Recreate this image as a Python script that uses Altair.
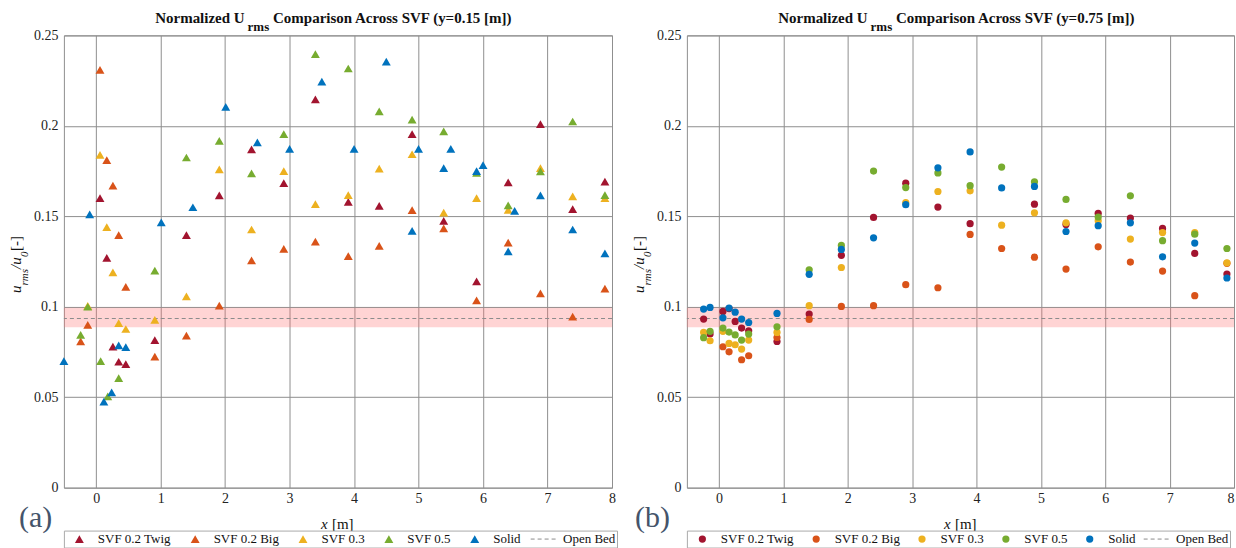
import altair as alt
import pandas as pd

# ---------------- data ----------------
series_names = ["SVF 0.2 Twig", "SVF 0.2 Big", "SVF 0.3", "SVF 0.5", "Solid"]
open_bed_name = "Open Bed"
series_colors = ["#A2142F", "#D95319", "#EDB120", "#77AC30", "#0072BD"]
open_bed_color = "#8c8c8c"

x_ticks = [0, 1, 2, 3, 4, 5, 6, 7, 8]
y_ticks = [0, 0.05, 0.1, 0.15, 0.2, 0.25]
x_domain = [-0.5, 8]
y_domain = [0, 0.25]

open_bed_mean = 0.0935
open_bed_low = 0.0886
open_bed_high = 0.0994

# (a) y = 0.15 m
a_twig_x = [0.06, 0.165, 0.26, 0.35, 0.46, 0.91, 1.40, 1.91, 2.41, 2.91, 3.40, 3.91, 4.39, 4.90, 5.39, 5.90, 6.39, 6.89, 7.39, 7.89]
a_twig_y = [0.160, 0.127, 0.078, 0.0696, 0.0683, 0.0816, 0.1396, 0.1615, 0.187, 0.1683, 0.2146, 0.158, 0.1558, 0.1954, 0.1475, 0.114, 0.1687, 0.2009, 0.154, 0.1692]
a_big_x = [-0.24, -0.13, 0.06, 0.165, 0.26, 0.35, 0.46, 0.91, 1.40, 1.91, 2.41, 2.91, 3.40, 3.91, 4.39, 4.90, 5.39, 5.90, 6.39, 6.89, 7.39, 7.89]
a_big_y = [0.0808, 0.090, 0.231, 0.181, 0.167, 0.1396, 0.111, 0.0724, 0.084, 0.1006, 0.1256, 0.132, 0.136, 0.128, 0.1337, 0.1534, 0.1433, 0.1035, 0.1355, 0.1074, 0.0945, 0.110]
a_svf03_x = [-0.13, 0.06, 0.165, 0.26, 0.35, 0.46, 0.91, 1.40, 1.91, 2.41, 2.91, 3.40, 3.91, 4.39, 4.90, 5.39, 5.90, 6.39, 6.89, 7.39, 7.89]
a_svf03_y = [0.1005, 0.184, 0.144, 0.119, 0.091, 0.0877, 0.0928, 0.1057, 0.176, 0.1427, 0.175, 0.1567, 0.1617, 0.1764, 0.1843, 0.152, 0.160, 0.1535, 0.1766, 0.161, 0.160]
a_svf05_x = [-0.24, -0.13, 0.07, 0.18, 0.35, 0.91, 1.40, 1.91, 2.41, 2.91, 3.40, 3.91, 4.39, 4.90, 5.39, 5.90, 6.39, 6.89, 7.39, 7.89]
a_svf05_y = [0.0845, 0.100, 0.070, 0.0505, 0.0606, 0.120, 0.1825, 0.1917, 0.1737, 0.1954, 0.2396, 0.2317, 0.208, 0.2035, 0.1969, 0.174, 0.156, 0.1748, 0.2024, 0.1617]
a_solid_x = [-0.5, -0.10, 0.12, 0.24, 0.35, 0.46, 1.01, 1.50, 2.01, 2.50, 3.0, 3.50, 4.0, 4.50, 4.90, 5.0, 5.39, 5.50, 5.90, 6.0, 6.39, 6.49, 6.89, 7.39, 7.89]
a_solid_y = [0.070, 0.151, 0.0475, 0.0527, 0.0786, 0.0777, 0.1466, 0.155, 0.2105, 0.1908, 0.1873, 0.2245, 0.1873, 0.2355, 0.142, 0.1873, 0.1766, 0.1873, 0.175, 0.1783, 0.1306, 0.153, 0.1615, 0.1427, 0.1295]

# (b) y = 0.75 m
b_twig_x = [-0.24, -0.14, 0.06, 0.155, 0.25, 0.35, 0.46, 0.90, 1.40, 1.90, 2.40, 2.90, 3.40, 3.90, 4.90, 5.39, 5.89, 6.39, 6.89, 7.39, 7.89]
b_twig_y = [0.0932, 0.085, 0.0974, 0.099, 0.0919, 0.0882, 0.0867, 0.0808, 0.096, 0.1284, 0.1494, 0.1683, 0.1551, 0.1459, 0.1567, 0.1455, 0.1516, 0.149, 0.1433, 0.1295, 0.1181]
b_big_x = [0.06, 0.155, 0.35, 0.46, 0.90, 1.40, 1.90, 2.40, 2.90, 3.40, 3.90, 4.39, 4.90, 5.39, 5.89, 6.39, 6.89, 7.39, 7.89]
b_big_y = [0.0779, 0.0751, 0.0707, 0.0729, 0.083, 0.093, 0.1002, 0.1006, 0.1122, 0.1105, 0.140, 0.1322, 0.1274, 0.1208, 0.1331, 0.1247, 0.1197, 0.1061, 0.124]
b_svf03_x = [-0.24, -0.14, 0.06, 0.155, 0.25, 0.35, 0.46, 0.90, 1.40, 1.90, 2.90, 3.40, 3.90, 4.39, 4.90, 5.39, 5.89, 6.39, 6.89, 7.39, 7.89]
b_svf03_y = [0.0858, 0.0812, 0.0864, 0.0797, 0.079, 0.0766, 0.0816, 0.0858, 0.1006, 0.1217, 0.1576, 0.1637, 0.1641, 0.1451, 0.1519, 0.1464, 0.1475, 0.1374, 0.141, 0.141, 0.1243]
b_svf05_x = [-0.24, -0.14, 0.06, 0.155, 0.25, 0.35, 0.46, 0.90, 1.40, 1.90, 2.40, 2.90, 3.40, 3.90, 4.39, 4.90, 5.39, 5.89, 6.39, 6.89, 7.39, 7.89]
b_svf05_y = [0.0829, 0.0864, 0.0882, 0.086, 0.0844, 0.0816, 0.0849, 0.0889, 0.1204, 0.1339, 0.175, 0.1659, 0.174, 0.1669, 0.1772, 0.1691, 0.1593, 0.1496, 0.1613, 0.1365, 0.1401, 0.1322]
b_solid_x = [-0.24, -0.14, 0.06, 0.155, 0.25, 0.35, 0.46, 0.90, 1.40, 1.90, 2.40, 2.90, 3.40, 3.90, 4.39, 4.90, 5.39, 5.89, 6.39, 6.89, 7.39, 7.89]
b_solid_y = [0.0987, 0.0996, 0.0939, 0.0993, 0.097, 0.0932, 0.0913, 0.0963, 0.1179, 0.1317, 0.1381, 0.1564, 0.1768, 0.1856, 0.1657, 0.1665, 0.1416, 0.1448, 0.1464, 0.1276, 0.1352, 0.1159]

FONT = "Liberation Serif"
TAG_FONT = "Times New Roman"
GRID = "#8f8f8f"
PLOT_H = 453


def points_frame(groups):
    rows = []
    for name, xs, ys in groups:
        for xv, yv in zip(xs, ys):
            rows.append({"series": name, "x": xv, "y": yv})
    return pd.DataFrame(rows)


def txt(text, x, y, size=15, weight="normal", style="normal", angle=0, align="left",
        color="#111111", font=FONT):
    return alt.Chart(pd.DataFrame({"t": [text]})).mark_text(
        align=align, baseline="alphabetic", font=font, fontSize=size,
        fontWeight=weight, fontStyle=style, angle=angle, color=color,
    ).encode(x=alt.value(x), y=alt.value(y), text="t:N")


def panel(groups, shape, marker_size, title_tail, tag, tag_x, width, col_pad, with_anchor, flush):
    domain_all = series_names + [open_bed_name]
    color_scale = alt.Scale(domain=domain_all, range=series_colors + [open_bed_color])
    stroke_scale = alt.Scale(domain=domain_all, range=["transparent"] * 5 + [open_bed_color])
    shape_scale = alt.Scale(domain=domain_all, range=[shape] * 5 + ["stroke"])
    size_scale = alt.Scale(type="ordinal", domain=domain_all, range=[marker_size] * 5 + [784])
    dash_scale = alt.Scale(domain=domain_all, range=[[1, 0]] * 5 + [[4, 3]])
    xsc = alt.Scale(domain=x_domain, nice=False, zero=False)
    ysc = alt.Scale(domain=y_domain, nice=False)
    xaxis = alt.Axis(values=x_ticks, format="d", title=None, ticks=False, domain=False,
                     labelFont=FONT, labelFontSize=14, labelColor="#222222", labelPadding=4,
                     labelFlush=flush, gridColor=GRID, gridOpacity=1)
    yaxis = alt.Axis(values=y_ticks, format="~g", title=None, ticks=False, domain=False,
                     labelFont=FONT, labelFontSize=14, labelColor="#222222", labelPadding=6,
                     gridColor=GRID, gridOpacity=1)
    legend = alt.Legend(
        title=None, orient="none", legendX=0, legendY=496, direction="horizontal", columns=6,
        padding=1, strokeColor="#aaaaaa", fillColor="white", labelFont=FONT, labelFontSize=13,
        labelColor="#111111", labelOffset=4, columnPadding=col_pad, symbolStrokeWidth=1,
        clipHeight=15,
    )

    band = alt.Chart(pd.DataFrame({"lo": [open_bed_low], "hi": [open_bed_high]})).mark_rect(
        color="#ff7070", opacity=0.3
    ).encode(y=alt.Y("lo:Q", scale=ysc, axis=yaxis), y2="hi:Q", x=alt.value(0), x2=alt.value(width))

    rule = alt.Chart(pd.DataFrame({"y": [open_bed_mean]})).mark_rule(
        strokeWidth=1, color=open_bed_color, strokeDash=[4, 3]
    ).encode(y=alt.Y("y:Q", scale=ysc, axis=yaxis))

    pts = alt.Chart(points_frame(groups)).mark_point(filled=True, opacity=1, size=marker_size).encode(
        x=alt.X("x:Q", scale=xsc, axis=xaxis),
        y=alt.Y("y:Q", scale=ysc, axis=yaxis),
        color=alt.Color("series:N", scale=color_scale, legend=legend),
        stroke=alt.Stroke("series:N", scale=stroke_scale, legend=legend),
        shape=alt.Shape("series:N", scale=shape_scale, legend=legend),
        size=alt.Size("series:N", scale=size_scale, legend=legend),
        strokeDash=alt.StrokeDash("series:N", scale=dash_scale, legend=legend),
    )

    texts = [
        # title with subscript
        txt("Normalized U", 181, -12.5, size=15, weight="bold", align="right"),
        txt("rms", 184, -4, size=13, weight="bold"),
        txt("Comparison Across SVF " + title_tail, 209.5, -12.5, size=15, weight="bold"),
        # y-axis title (rotated)
        txt("u", -43, 258, size=15, style="italic", angle=270),
        txt("rms", -36, 250.5, size=11, style="italic", angle=270),
        txt("/u", -43, 234, size=15, style="italic", angle=270),
        txt("0", -36, 222, size=11, style="italic", angle=270),
        txt(" [-]", -43, 216, size=15, angle=270),
        # x-axis title
        txt("x", 257.5, 494.5, size=15, style="italic"),
        txt("[m]", 268.5, 494.5, size=15),
        # panel tag
        txt(tag, tag_x, 492.5, size=30, color="#44546A", font=TAG_FONT),
    ]

    layers = [band, rule, pts] + texts
    if with_anchor:
        anchor = alt.Chart(pd.DataFrame({"a": [0]})).mark_rect(fill="white").encode(
            x=alt.value(-63), x2=alt.value(-62), y=alt.value(-34), y2=alt.value(-33)
        )
        layers = [anchor] + layers
    return alt.layer(*layers).properties(width=width, height=PLOT_H)


left = panel(
    [(series_names[0], a_twig_x, a_twig_y), (series_names[1], a_big_x, a_big_y),
     (series_names[2], a_svf03_x, a_svf03_y), (series_names[3], a_svf05_x, a_svf05_y),
     (series_names[4], a_solid_x, a_solid_y)],
    "triangle-up", 80, "(y=0.15 [m])", "(a)", -45, 549, 9, True, False,
)
right = panel(
    [(series_names[0], b_twig_x, b_twig_y), (series_names[1], b_big_x, b_big_y),
     (series_names[2], b_svf03_x, b_svf03_y), (series_names[3], b_svf05_x, b_svf05_y),
     (series_names[4], b_solid_x, b_solid_y)],
    "circle", 52, "(y=0.75 [m])", "(b)", -52, 548, 7, False, True,
)

chart = alt.hconcat(left, right, spacing=75, bounds="flush").resolve_scale(
    color="independent", stroke="independent", shape="independent", size="independent",
    strokeDash="independent"
).properties(padding=0).configure_view(stroke=GRID, strokeWidth=1)

chart.save("out.html", embed_options={"renderer": "svg", "actions": False})
